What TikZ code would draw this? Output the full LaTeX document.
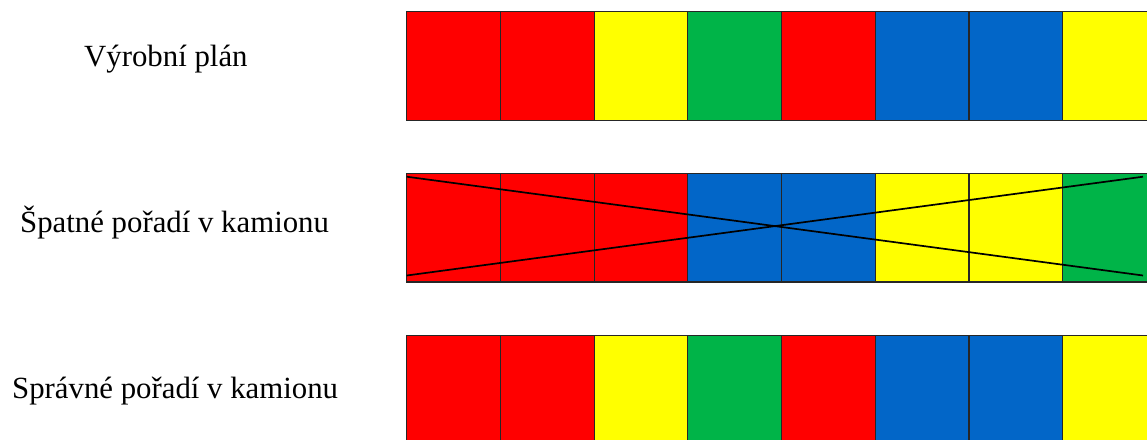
\documentclass[tikz,border=0pt]{standalone}
\usepackage{fontspec}
\setmainfont{Liberation Serif}
\usepackage{tikz}
\usetikzlibrary{positioning}
\usepackage{xcolor}

\definecolor{planred}{RGB}{255,0,0}
\definecolor{planyellow}{RGB}{255,255,0}
\definecolor{plangreen}{RGB}{0,180,72}
\definecolor{planblue}{RGB}{2,102,200}

\begin{document}
\begin{tikzpicture}[
    x=1pt,y=-1pt,
    rowlabel/.style={anchor=base west,font=\fontsize{30.8}{34}\selectfont,text=black,inner sep=0pt},
    cell/.style={draw=black!85,line width=1.2pt,minimum width=93.7pt,minimum height=108.5pt,inner sep=0pt,outer sep=0pt},
    crossline/.style={draw=black,line width=1.7pt}
  ]
    \useasboundingbox (0,0) rectangle (1147,439);
    \clip (0,0) rectangle (1147,439);

    \node[rowlabel] (plan) at (84,66.7) {Výrobní plán};
    \node[rowlabel] (wrong) at (20,232.7) {Špatné pořadí v kamionu};
    \node[rowlabel] (right) at (12,398) {Správné pořadí v kamionu};

    % vyrobni plan
    \foreach \col [count=\i] in {planred,planred,planyellow,plangreen,planred,planblue,planblue,planyellow} {
      \node[cell,fill=\col] (a\i) at (359.85+93.7*\i,66) {};
    }
    % spatne poradi
    \foreach \col [count=\i] in {planred,planred,planred,planblue,planblue,planyellow,planyellow,plangreen} {
      \node[cell,fill=\col] (b\i) at (359.85+93.7*\i,227.8) {};
    }
    % spravne poradi
    \foreach \col [count=\i] in {planred,planred,planyellow,plangreen,planred,planblue,planblue,planyellow} {
      \node[cell,fill=\col] (c\i) at (359.85+93.7*\i,390) {};
    }

    \coordinate (xtl) at (406.7,176.7);
    \coordinate (xbl) at (406.7,275.5);
    \coordinate (xtr) at (1143,176.7);
    \coordinate (xbr) at (1143,275.5);
    \draw[crossline] (xtl) -- (xbr);
    \draw[crossline] (xbl) -- (xtr);
  \end{tikzpicture}
\end{document}
